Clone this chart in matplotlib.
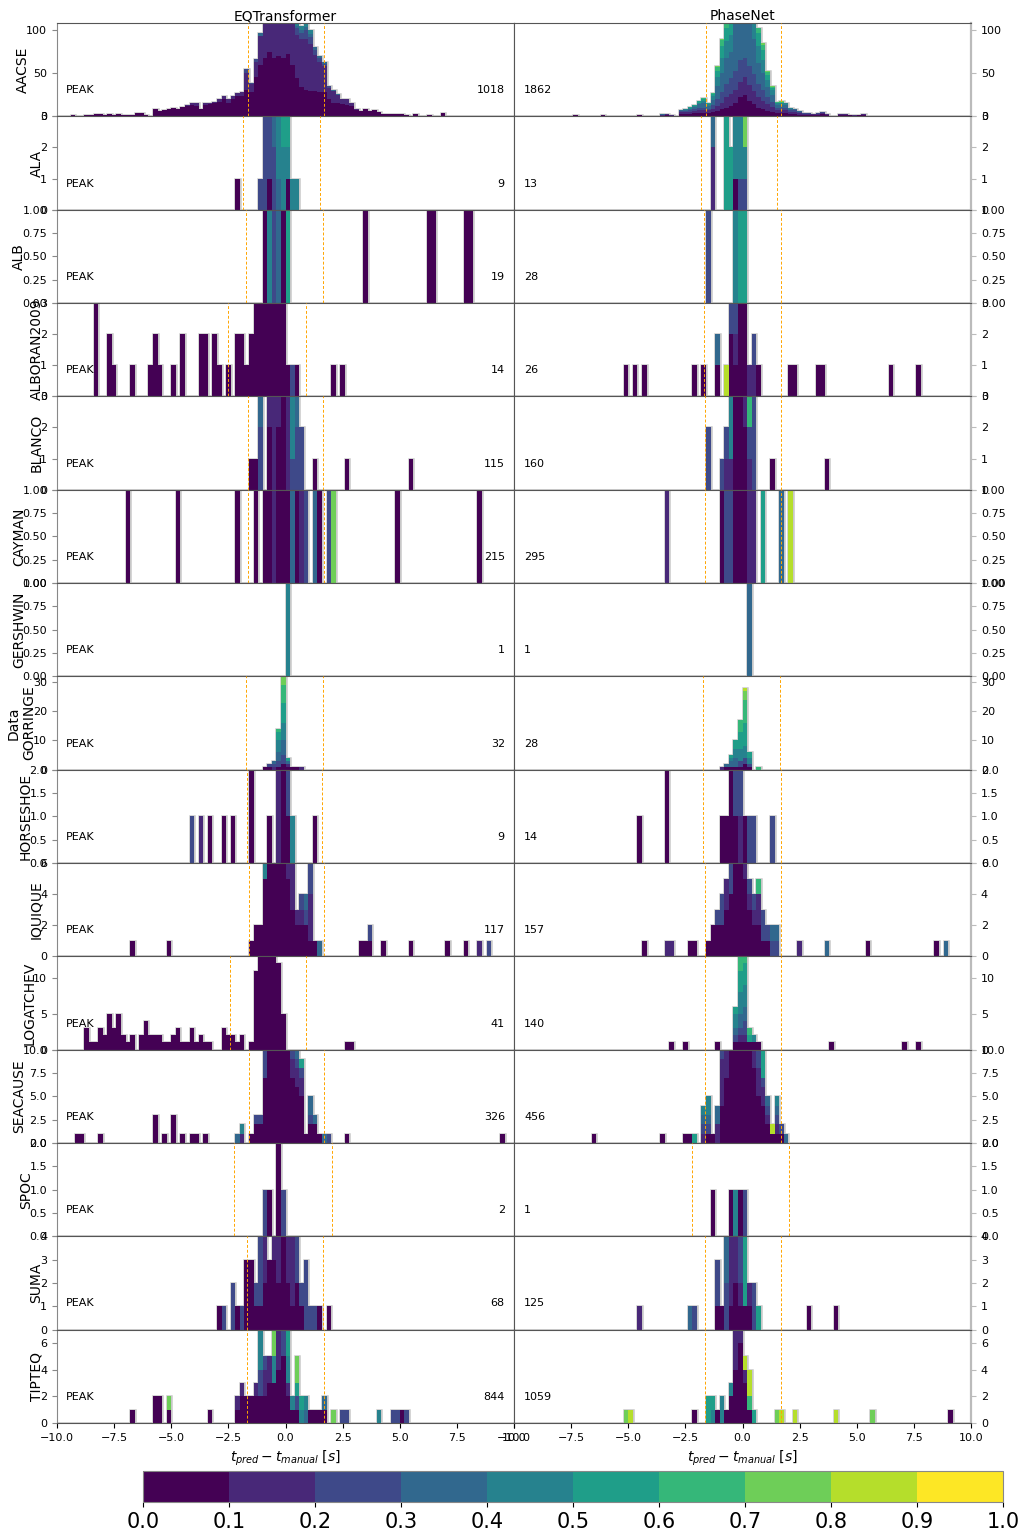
import numpy as np
import matplotlib
matplotlib.use('Agg')
import matplotlib.pyplot as plt
from matplotlib.colors import ListedColormap, BoundaryNorm
from matplotlib.cm import ScalarMappable

plt.rcParams['xtick.labelsize'] = 8
plt.rcParams['ytick.labelsize'] = 8

# station names, pick counts and y-limits per row
stations = ['AACSE', 'ALA', 'ALB', 'ALBORAN2009', 'BLANCO', 'CAYMAN', 'GERSHWIN',
            'GORRINGE', 'HORSESHOE', 'IQUIQUE', 'LOGATCHEV', 'SEACAUSE', 'SPOC',
            'SUMA', 'TIPTEQ']
eqt_counts = [1018, 9, 19, 14, 115, 215, 1, 32, 9, 117, 41, 326, 2, 68, 844]
pn_counts = [1862, 13, 28, 26, 160, 295, 1, 28, 14, 157, 140, 456, 1, 125, 1059]
ylims = [108, 3, 1, 3, 3, 1, 1, 32, 2, 6, 13, 10, 2, 4, 7]

# spread markers (s)
eqt_lines = [(-1.62, 1.69), (-1.85, 1.52), (-1.75, 1.65), (-2.5, 0.88), (-1.65, 1.65),
             (-1.62, 1.68), (), (-1.72, 1.63), (-1.69, 1.6), (-1.58, 1.7),
             (-2.44, 0.88), (-1.58, 1.7), (-2.24, 2.02), (-1.67, 1.62), (-1.67, 1.68)]
pn_lines = [(-1.62, 1.69), (-1.82, 1.53), (-1.68, 1.67), (-1.68, 1.67), (-1.65, 1.67),
            (-1.63, 1.67), (), (-1.72, 1.63), (-1.72, 1.67), (-1.65, 1.67),
            (-1.63, 1.67), (-1.63, 1.67), (-2.22, 2.03), (-1.63, 1.67), (-1.63, 1.67)]

# histogram rows: (bin centre, n for prob class 0.0-0.1, 0.1-0.2, ...)
eqt_aacse = [(-9.3, 2), (-9.1, 1), (-8.9, 1), (-8.7, 2), (-8.5, 2), (-8.3, 3), (-8.1, 3), (-7.9, 2),
             (-7.7, 3), (-7.5, 2), (-7.3, 3), (-7.1, 2), (-6.9, 2), (-6.7, 2), (-6.5, 4), (-6.3, 4),
             (-6.1, 2), (-5.9, 1), (-5.7, 8), (-5.5, 6), (-5.3, 7), (-5.1, 8), (-4.9, 10), (-4.7, 9),
             (-4.5, 11), (-4.3, 12, 1), (-4.1, 13, 2), (-3.9, 12, 3), (-3.7, 8, 1), (-3.5, 13, 2),
             (-3.3, 14, 2), (-3.1, 15, 2), (-2.9, 17, 3), (-2.7, 20, 4), (-2.5, 16, 4), (-2.3, 20, 4),
             (-2.1, 23, 4), (-1.9, 24, 4), (-1.7, 30, 20, 5), (-1.5, 28, 9, 2), (-1.3, 46, 17, 3),
             (-1.1, 59, 34, 0, 4), (-0.9, 67, 50, 8, 5), (-0.7, 75, 55, 10, 4), (-0.5, 68, 60, 10, 4),
             (-0.3, 70, 60, 10, 4), (-0.1, 68, 62, 10, 4), (0.1, 72, 55, 10, 4), (0.3, 59, 50, 10, 3, 3),
             (0.5, 44, 50, 8, 3, 3), (0.7, 34, 55, 8, 3, 5), (0.9, 30, 60, 10, 3, 7), (1.1, 29, 55, 8, 3, 5),
             (1.3, 29, 42, 6, 3), (1.5, 28, 35, 5, 2), (1.7, 28, 30, 3, 2), (1.9, 20, 13, 2),
             (2.1, 15, 14, 0, 1), (2.3, 15, 10, 0, 1), (2.5, 14, 6), (2.7, 13, 7), (2.9, 12, 4),
             (3.1, 7, 1), (3.3, 6), (3.5, 8), (3.7, 6), (3.9, 7), (4.1, 5), (4.3, 3), (4.5, 3), (4.7, 3),
             (4.9, 3), (5.1, 3), (5.3, 2), (5.5, 1), (5.7, 3), (5.9, 1), (6.1, 1), (6.3, 2), (6.5, 1),
             (6.7, 1), (6.9, 4), (7.1, 1), (7.3, 1), (7.7, 1), (8.1, 1), (8.5, 1), (8.7, 1), (9.1, 1)]
pn_aacse = [(-9.1, 1), (-7.3, 2), (-6.1, 2), (-5.9, 1), (-4.5, 2), (-3.9, 1), (-3.7, 1),
            (-3.5, 1, 1, 0, 1), (-3.3, 2, 1), (-3.1, 1, 1), (-2.9, 1), (-2.7, 3, 2, 1, 1),
            (-2.5, 3, 2, 1, 1, 1), (-2.3, 3, 2, 2, 2, 1, 1), (-2.1, 4, 2, 2, 3, 1, 1),
            (-1.9, 4, 3, 3, 4, 2, 2), (-1.7, 4, 3, 3, 5, 3, 2, 1), (-1.5, 4, 3, 2, 3, 2, 1),
            (-1.3, 5, 4, 4, 6, 4, 3, 1), (-1.1, 6, 6, 8, 15, 10, 8, 4, 1), (-0.9, 8, 8, 12, 22, 18, 14, 6, 2),
            (-0.7, 10, 12, 15, 30, 20, 15, 6), (-0.5, 12, 14, 18, 30, 20, 15), (-0.3, 15, 16, 22, 60),
            (-0.1, 22, 18, 25, 50), (0.1, 25, 20, 22, 45), (0.3, 18, 18, 22, 50), (0.5, 14, 15, 20, 40, 20),
            (0.7, 10, 12, 15, 25, 20, 15, 5), (0.9, 8, 10, 12, 20, 15, 12, 6, 2), (1.1, 6, 8, 8, 12, 8, 6, 3, 1),
            (1.3, 5, 6, 6, 8, 5, 3, 1, 1), (1.5, 4, 3, 3, 3, 2, 1, 1), (1.7, 4, 3, 3, 3, 2, 1, 1, 1),
            (1.9, 4, 3, 3, 3, 2, 1), (2.1, 3, 2, 2, 2, 1), (2.3, 3, 2, 2, 1, 1), (2.5, 2, 2, 1, 1),
            (2.7, 2, 1, 1), (2.9, 2, 1, 1), (3.1, 2, 1), (3.3, 2, 1, 1), (3.5, 3, 1, 1), (3.7, 2, 1),
            (3.9, 1), (4.3, 2, 1), (4.5, 2, 1), (4.7, 2), (4.9, 1, 1), (5.1, 2), (5.3, 2, 1), (5.5, 1),
            (5.7, 1), (6.1, 1), (6.7, 1), (7.5, 1), (8.3, 1), (9.1, 1)]

eqt_ala = [(-2.1, 1), (-1.1, 0, 0, 1), (-0.9, 0, 0, 4), (-0.7, 1, 0, 3), (-0.5, 0, 0, 2, 2),
           (-0.3, 0, 0, 0, 1, 3), (-0.1, 0, 0, 0, 0, 2, 2), (0.1, 1, 0, 0, 0, 1, 1), (0.3, 0, 0, 0, 0, 1),
           (0.5, 0, 0, 0, 0, 1)]
pn_ala = [(-1.3, 0, 2, 0, 1), (-0.7, 0, 0, 0, 0, 0, 3), (-0.5, 0, 0, 0, 0, 0, 2), (-0.3, 1, 0, 0, 0, 2),
          (-0.1, 0, 0, 1, 0, 2), (0.1, 0, 0, 1, 0, 1, 0, 0, 1)]

eqt_alb = [(-0.9, 2), (-0.7, 0, 0, 0, 0, 1), (-0.5, 0, 0, 1), (-0.3, 0, 0, 0, 1), (-0.1, 2),
           (0.1, 0, 0, 0, 0, 0, 1), (3.5, 1), (6.3, 1), (6.5, 1), (7.9, 1), (8.1, 1)]
pn_alb = [(-1.5, 0, 0, 1), (-0.3, 0, 0, 0, 0, 1), (-0.1, 0, 0, 0, 0, 0, 2), (0.1, 0, 0, 0, 0, 0, 2)]

eqt_alboran = [(-8.3, 3), (-7.7, 2), (-7.5, 1), (-6.7, 1), (-5.9, 1), (-5.7, 2), (-5.5, 1), (-4.9, 1),
               (-4.5, 2), (-3.7, 2), (-3.5, 2), (-3.1, 2), (-2.9, 1), (-2.5, 1), (-2.1, 2), (-1.9, 2),
               (-1.7, 1), (-1.5, 2), (-1.3, 4), (-1.1, 5), (-0.9, 6), (-0.7, 6), (-0.5, 5), (-0.3, 4),
               (-0.1, 4), (0.1, 1), (0.3, 0, 0, 1), (0.5, 1), (2.1, 1), (2.5, 1)]
pn_alboran = [(-5.1, 1), (-4.7, 1), (-4.3, 1), (-2.1, 1), (-1.7, 1), (-1.1, 1, 0, 0, 1),
              (-0.7, 0, 0, 0, 0, 0, 0, 0, 0, 1), (-0.5, 2, 0, 2), (-0.3, 1, 1, 2), (-0.1, 4), (0.1, 4),
              (0.3, 0, 1), (0.5, 0, 1, 1), (0.7, 1), (2.1, 1), (2.3, 1), (3.3, 1), (3.5, 1), (6.5, 1), (7.7, 1)]

eqt_blanco = [(-1.5, 1), (-1.3, 1), (-1.1, 0, 0, 2, 1), (-0.7, 2, 1), (-0.5, 0, 3), (-0.3, 2, 2),
              (-0.1, 3), (0.1, 0, 3), (0.3, 0, 0, 1, 0, 2), (0.5, 0, 0, 2, 1), (0.7, 0, 0, 2),
              (1.3, 1), (2.7, 1), (5.5, 1)]
pn_blanco = [(-1.5, 0, 0, 2), (-0.9, 0, 0, 1), (-0.7, 0, 1, 1), (-0.5, 0, 1, 0, 0, 2), (-0.3, 4),
             (-0.1, 4), (0.1, 2, 1), (0.3, 0, 1, 1, 0, 0, 0, 1), (0.5, 0, 0, 3), (1.3, 1), (3.7, 1)]

eqt_cayman = [(-6.9, 1), (-4.7, 1), (-2.1, 1), (-1.3, 1), (-0.9, 2), (-0.7, 2), (-0.5, 0, 2), (-0.3, 3),
              (-0.1, 3), (0.1, 3), (0.3, 0, 0, 0, 1), (0.5, 1), (0.7, 0, 1), (0.9, 0, 0, 1),
              (1.3, 0, 0, 0, 1), (1.5, 1), (1.9, 0, 0, 1), (2.1, 0, 0, 0, 0, 0, 0, 0, 1), (4.9, 1), (8.5, 1)]
pn_cayman = [(-3.3, 0, 1), (-0.9, 1), (-0.7, 0, 0, 1), (-0.5, 0, 0, 1), (-0.3, 2), (-0.1, 2), (0.1, 2),
             (0.3, 0, 1), (0.5, 0, 1), (0.9, 0, 0, 0, 0, 0, 1), (1.7, 0, 0, 0, 1),
             (2.1, 0, 0, 0, 0, 0, 0, 0, 0, 1)]

eqt_gershwin = [(0.1, 0, 0, 0, 0, 1)]
pn_gershwin = [(0.3, 0, 0, 0, 1)]

eqt_gorringe = [(-0.9, 1), (-0.7, 1, 0, 1), (-0.5, 0, 1, 1, 1), (-0.3, 1, 0, 2, 3, 4, 3, 1),
                (-0.1, 2, 0, 3, 5, 6, 7, 6, 4), (0.1, 1, 1, 0, 1, 0, 1), (0.3, 1), (0.5, 1), (0.7, 0, 1)]
pn_gorringe = [(-0.9, 0, 1), (-0.7, 1, 0, 0, 1), (-0.5, 1, 0, 0, 2, 1, 1), (-0.3, 1, 0, 0, 3, 3, 3),
               (-0.1, 1, 0, 2, 0, 4, 6, 4), (0.1, 2, 0, 2, 0, 4, 8, 8, 3, 1), (0.3, 1, 0, 1, 0, 2, 2),
               (0.7, 0, 0, 0, 0, 0, 0, 1)]

eqt_horseshoe = [(-4.1, 0, 0, 1), (-3.7, 0, 1), (-3.3, 1), (-2.7, 1), (-2.3, 1), (-1.5, 2), (-0.7, 1),
                 (-0.3, 0, 3), (-0.1, 2, 0, 0, 1), (0.1, 1, 0, 1), (0.3, 0, 0, 0, 0, 1), (1.3, 1)]
pn_horseshoe = [(-4.5, 1), (-3.3, 2), (-0.9, 1), (-0.7, 1), (-0.5, 3), (-0.3, 1, 0, 1, 1),
                (-0.1, 0, 1, 2), (0.1, 1), (0.3, 0, 0, 1), (0.5, 0, 0, 1), (1.3, 0, 0, 1)]

eqt_iquique = [(-6.7, 1), (-5.1, 1), (-1.5, 1), (-1.3, 2), (-1.1, 2), (-0.9, 5, 0, 0, 0, 2), (-0.7, 6, 1),
               (-0.5, 7), (-0.3, 8, 1), (-0.1, 7, 1), (0.1, 5, 2), (0.3, 3, 3, 1), (0.5, 2, 1),
               (0.7, 2, 1, 1), (0.9, 2, 0, 1, 1), (1.1, 1, 3, 2), (1.3, 1), (1.5, 0, 0, 0, 1), (3.3, 1),
               (3.5, 1), (3.7, 1, 0, 1), (4.3, 1), (5.5, 1), (7.1, 1), (7.9, 1), (8.5, 0, 1), (8.9, 0, 0, 1)]
pn_iquique = [(-4.3, 1), (-3.3, 0, 1), (-3.1, 0, 1), (-2.3, 1), (-2.1, 1), (-1.5, 1), (-1.3, 2),
              (-1.1, 2, 0, 1), (-0.9, 2, 0, 2), (-0.7, 3, 2), (-0.5, 4, 0, 2), (-0.3, 6, 1), (-0.1, 6, 2),
              (0.1, 5, 1, 1), (0.3, 3, 1, 1), (0.5, 2, 1, 1), (0.7, 2, 2, 0, 0, 0, 0, 1), (0.9, 1, 0, 2),
              (1.1, 1, 0, 1), (1.3, 0, 0, 1, 1), (1.5, 0, 0, 1, 1), (2.5, 0, 1), (3.7, 0, 0, 0, 1),
              (5.5, 1), (8.5, 1), (8.9, 0, 0, 0, 1)]

eqt_logatchev = [(-8.7, 3), (-8.5, 1), (-8.3, 1), (-8.1, 3), (-7.9, 2), (-7.7, 5), (-7.5, 3), (-7.3, 5),
                 (-7.1, 2), (-6.9, 1), (-6.7, 2), (-6.3, 2), (-6.1, 4), (-5.9, 2), (-5.7, 2), (-5.5, 2),
                 (-5.3, 1), (-5.1, 1), (-4.9, 2), (-4.7, 3), (-4.5, 1), (-4.3, 1), (-4.1, 3), (-3.9, 1),
                 (-3.7, 2), (-3.5, 1), (-3.3, 1), (-2.7, 3), (-2.5, 2), (-2.3, 2), (-2.1, 1), (-1.9, 2),
                 (-1.5, 1), (-1.3, 11), (-1.1, 14), (-0.9, 15), (-0.7, 16), (-0.5, 14), (-0.3, 12),
                 (-0.1, 5), (2.7, 1), (2.9, 1)]
pn_logatchev = [(-3.1, 1), (-2.5, 1), (-1.1, 1), (-0.3, 1, 0, 1, 1, 2, 1), (-0.1, 1, 1, 1, 2, 3, 3, 3),
                (0.1, 1, 1, 2, 2, 3, 3, 2, 0, 1), (0.3, 1, 0, 0, 0, 0, 1, 1), (0.5, 1, 0, 0, 0, 1),
                (0.7, 1), (3.9, 1), (7.1, 1), (7.7, 1)]

eqt_seacause = [(-9.1, 1), (-8.9, 1), (-8.1, 1), (-5.7, 3), (-5.3, 1), (-4.9, 3), (-4.5, 1), (-4.1, 1),
                (-3.9, 1), (-3.5, 1), (-2.1, 0, 0, 0, 1), (-1.9, 0, 1, 0, 0, 1), (-1.5, 1), (-1.3, 2, 0, 1),
                (-1.1, 2, 0, 1), (-0.9, 7, 0, 4), (-0.7, 12, 1), (-0.5, 14), (-0.3, 14, 1), (-0.1, 13, 2),
                (0.1, 10, 3, 1), (0.3, 7, 2, 2), (0.5, 6, 2, 1, 1), (0.7, 5, 2, 1, 0, 0, 1), (0.9, 1),
                (1.1, 2, 0, 1, 2), (1.3, 2, 0, 0, 1), (1.5, 1), (1.7, 0, 0, 0, 1), (1.9, 0, 0, 1),
                (2.7, 1), (9.5, 1)]
pn_seacause = [(-6.5, 1), (-3.5, 1), (-2.5, 1), (-2.3, 1), (-2.1, 0, 0, 0, 0, 0, 1), (-1.7, 0, 1, 1, 1, 1),
               (-1.5, 1, 0, 1, 1, 2), (-1.3, 1), (-1.1, 0, 2, 0, 2), (-0.9, 4, 5, 2), (-0.7, 7, 3, 1),
               (-0.5, 10, 1), (-0.3, 12), (-0.1, 12), (0.1, 12), (0.3, 10, 2), (0.5, 8, 3), (0.7, 5, 3, 2),
               (0.9, 4, 2, 1, 0, 0, 3), (1.1, 2, 1, 1, 1), (1.3, 1, 0, 0, 0, 0, 0, 0, 0, 1),
               (1.5, 1, 1, 1, 1, 1), (1.7, 1, 0, 1), (1.9, 0, 0, 0, 1)]

eqt_spoc = [(-0.9, 0, 0, 1), (-0.7, 1), (-0.3, 3), (-0.1, 0, 0, 1)]
pn_spoc = [(-1.3, 1), (-0.5, 1), (-0.3, 0, 0, 0, 0, 1), (-0.1, 1), (0.1, 0, 0, 1)]

eqt_suma = [(-2.9, 1), (-2.7, 0, 0, 1), (-2.3, 0, 0, 2), (-2.1, 1), (-1.9, 0, 0, 1), (-1.7, 3), (-1.5, 3),
            (-1.3, 1, 0, 1), (-1.1, 1, 0, 3), (-0.9, 2, 3), (-0.7, 3), (-0.5, 3, 2), (-0.3, 2, 3),
            (-0.1, 4, 1), (0.1, 2, 2), (0.3, 1, 3), (0.5, 2, 0, 2), (0.7, 1, 0, 1), (0.9, 0, 0, 3),
            (1.1, 0, 0, 1), (1.3, 0, 0, 1), (1.5, 1), (1.9, 1)]
pn_suma = [(-4.5, 0, 1), (-2.3, 0, 0, 0, 1), (-2.1, 0, 0, 1), (-1.1, 1, 0, 2), (-0.9, 1),
           (-0.7, 0, 0, 2, 2), (-0.5, 1, 3), (-0.3, 2, 3), (-0.1, 1, 1, 2), (0.1, 1, 0, 0, 0, 0, 4),
           (0.3, 1, 1), (0.5, 0, 0, 2), (0.7, 0, 0, 0, 0, 0, 1), (2.9, 1), (4.1, 1)]

eqt_tipteq = [(-6.7, 1), (-5.7, 2), (-5.5, 2), (-5.1, 1, 0, 0, 0, 0, 0, 0, 1), (-3.3, 1), (-2.1, 1, 1),
              (-1.9, 2, 1), (-1.7, 2), (-1.5, 2), (-1.3, 2, 1), (-1.1, 2, 0, 2, 0, 3), (-0.9, 2, 2, 1),
              (-0.7, 3, 2), (-0.5, 3, 0, 0, 0, 2, 0, 0, 2), (-0.3, 4, 3), (-0.1, 5, 0, 2),
              (0.1, 2, 1, 0, 0, 2, 2), (0.3, 1, 0, 0, 0, 1), (0.5, 1, 0, 1, 0, 0, 1, 0, 2),
              (0.7, 0, 0, 0, 0, 1, 1), (0.9, 0, 0, 0, 1, 1), (1.1, 1), (1.3, 1), (1.5, 1), (1.7, 1, 0, 0, 1),
              (2.1, 0, 0, 0, 0, 0, 0, 0, 1), (2.5, 0, 0, 1), (2.7, 0, 0, 1), (4.1, 0, 0, 0, 0, 1),
              (4.7, 0, 0, 1), (4.9, 0, 0, 1), (5.1, 1), (5.3, 0, 0, 1)]
pn_tipteq = [(-5.1, 0, 0, 0, 0, 0, 0, 0, 1), (-4.9, 0, 0, 0, 0, 0, 0, 0, 0, 1), (-2.1, 1),
             (-1.5, 0, 0, 0, 0, 0, 2), (-1.3, 0, 0, 0, 0, 1, 1), (-1.1, 1), (-0.9, 0, 0, 0, 0, 2), (-0.7, 1),
             (-0.5, 2, 0, 0, 0, 1), (-0.3, 4, 4), (-0.1, 6, 3, 1), (0.1, 3, 1, 0, 0, 0, 0, 0, 0, 1),
             (0.3, 1, 0, 0, 0, 0, 0, 1, 0, 2), (0.5, 0, 0, 0, 0, 0, 1), (1.5, 0, 0, 0, 0, 0, 0, 0, 1),
             (1.7, 0, 0, 0, 0, 0, 0, 0, 0, 1), (2.3, 0, 0, 0, 0, 0, 0, 0, 0, 1),
             (4.1, 0, 0, 0, 0, 0, 0, 0, 0, 1), (5.7, 0, 0, 0, 0, 0, 0, 0, 1), (9.1, 1)]

eqt_data = [eqt_aacse, eqt_ala, eqt_alb, eqt_alboran, eqt_blanco, eqt_cayman, eqt_gershwin,
            eqt_gorringe, eqt_horseshoe, eqt_iquique, eqt_logatchev, eqt_seacause, eqt_spoc,
            eqt_suma, eqt_tipteq]
pn_data = [pn_aacse, pn_ala, pn_alb, pn_alboran, pn_blanco, pn_cayman, pn_gershwin,
           pn_gorringe, pn_horseshoe, pn_iquique, pn_logatchev, pn_seacause, pn_spoc,
           pn_suma, pn_tipteq]

bins = np.linspace(-10, 10, 101)
n_cls = 10
colors = plt.cm.viridis(np.linspace(0, 1, n_cls))


def draw_panel(ax, rows, lines):
    xs = [[] for _ in range(n_cls)]
    ws = [[] for _ in range(n_cls)]
    for row in rows:
        for c, n in enumerate(row[1:]):
            if n:
                xs[c].append(row[0])
                ws[c].append(n)
    allx = sum(xs, [])
    allw = sum(ws, [])
    # light outline of the total, then the stacked classes
    ax.hist(allx, bins=bins, weights=allw, histtype='step', color='#c8c8c8', lw=1.8, zorder=1)
    ax.hist([np.array(x, float) for x in xs], bins=bins,
            weights=[np.array(w, float) for w in ws], stacked=True,
            histtype='stepfilled', color=colors, lw=0, zorder=2)
    for x in lines:
        ax.axvline(x, color='orange', lw=0.7, ls=(0, (3, 2)), zorder=3)


fig, axes = plt.subplots(15, 2, figsize=(10.27, 15.36), dpi=100, sharex=True, sharey='row',
                         gridspec_kw=dict(hspace=0, wspace=0))
fig.subplots_adjust(left=0.0555, right=0.9455, top=0.985, bottom=0.0736)

for i, name in enumerate(stations):
    axl, axr = axes[i]
    draw_panel(axl, eqt_data[i], eqt_lines[i])
    draw_panel(axr, pn_data[i], pn_lines[i])
    axl.set_xlim(-10, 10)
    axl.set_ylim(0, ylims[i])
    axl.set_ylabel('Data\n' + name if name == 'GORRINGE' else name, fontsize=10, labelpad=-2.5)
    axr.yaxis.tick_right()
    axr.tick_params(axis='y', labelright=True, color='#bbbbbb')
    axl.tick_params(axis='y', color='#888888')
    axl.text(0.02, 0.28, 'PEAK', transform=axl.transAxes, fontsize=8, va='center')
    axl.text(0.98, 0.28, str(eqt_counts[i]), transform=axl.transAxes, fontsize=8,
             va='center', ha='right')
    axr.text(0.022, 0.28, str(pn_counts[i]), transform=axr.transAxes, fontsize=8, va='center')
    for ax in (axl, axr):
        for s in ax.spines.values():
            s.set_color('#555555')
            s.set_linewidth(0.8)
        if i < len(stations) - 1:
            ax.tick_params(axis='x', length=0)
    axl.spines['left'].set_color('#888888')
    axr.spines['right'].set_color('#bbbbbb')
    axr.spines['right'].set_linewidth(1.6)

axes[0, 0].set_title('EQTransformer', fontsize=10, pad=2)
axes[0, 1].set_title('PhaseNet', fontsize=10, pad=2)
for ax in axes[-1]:
    ax.set_xlabel(r'$t_{pred} - t_{manual}$ [$s$]', fontsize=10)

cax = fig.add_axes([0.139, 0.0221, 0.838, 0.0202])
cmap = ListedColormap(colors)
norm = BoundaryNorm(np.linspace(0, 1, n_cls + 1), n_cls)
cb = fig.colorbar(ScalarMappable(norm=norm, cmap=cmap), cax=cax, orientation='horizontal',
                  ticks=np.linspace(0, 1, n_cls + 1))
cb.ax.set_xticklabels(['%.1f' % v for v in np.linspace(0, 1, n_cls + 1)])
cb.ax.tick_params(labelsize=15)
cb.outline.set_edgecolor('#888888')

fig.savefig('out.png', dpi=100)
